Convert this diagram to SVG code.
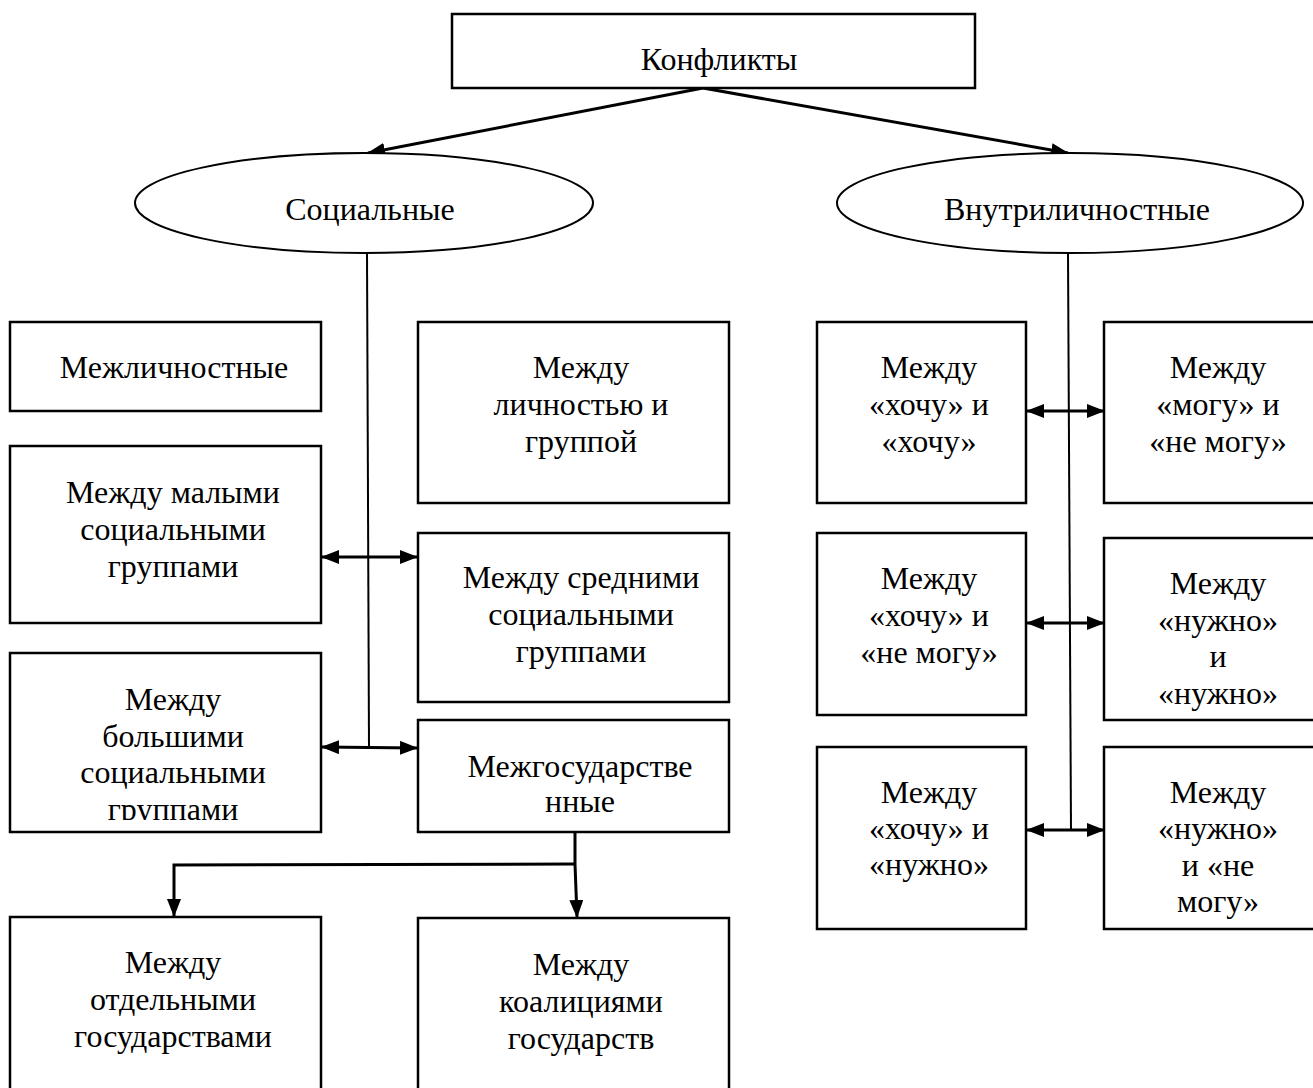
<svg xmlns="http://www.w3.org/2000/svg" width="1313" height="1088" viewBox="0 0 1313 1088">
<style>
.box{fill:#fff;stroke:#000;stroke-width:2.5}
.ell{fill:#fff;stroke:#000;stroke-width:2}
.t{font-family:"Liberation Serif","Times New Roman",serif;font-size:32px;fill:#000;text-anchor:middle}
.ln{fill:none;stroke:#000;stroke-width:2}
.ar{fill:none;stroke:#000;stroke-width:3}
</style>
<defs>
<marker id="ah" markerUnits="userSpaceOnUse" markerWidth="18" markerHeight="14" refX="17" refY="7" orient="auto-start-reverse">
<path d="M0,0 L18,7 L0,14 z" fill="#000"/>
</marker>
<clipPath id="clipBig"><rect x="0" y="640" width="330" height="180"/></clipPath>
</defs>
<rect width="1313" height="1088" fill="#fff"/>

<g id="connectors">
<line class="ar" x1="703" y1="88" x2="368" y2="153" marker-end="url(#ah)"/>
<line class="ar" x1="703" y1="88" x2="1068" y2="153" marker-end="url(#ah)"/>
<line class="ln" x1="367" y1="253" x2="369" y2="748"/>
<line class="ar" x1="322" y1="557" x2="417" y2="557" marker-start="url(#ah)" marker-end="url(#ah)"/>
<line class="ar" x1="322" y1="747" x2="417" y2="748" marker-start="url(#ah)" marker-end="url(#ah)"/>
<path class="ar" d="M575,832 L575,864 L577,917" marker-end="url(#ah)"/>
<path class="ar" d="M575,864 L174,865 L174,916" marker-end="url(#ah)"/>
<line class="ln" x1="1068" y1="253" x2="1071" y2="830"/>
<line class="ar" x1="1027" y1="411" x2="1104" y2="411" marker-start="url(#ah)" marker-end="url(#ah)"/>
<line class="ar" x1="1027" y1="623" x2="1104" y2="623" marker-start="url(#ah)" marker-end="url(#ah)"/>
<line class="ar" x1="1027" y1="830" x2="1104" y2="830" marker-start="url(#ah)" marker-end="url(#ah)"/>
</g>

<g id="n-konflikty">
<rect class="box" x="452" y="14" width="523" height="74"/>
<text class="t" x="719" y="70">Конфликты</text>
</g>

<g id="n-socialnye">
<ellipse class="ell" cx="364" cy="203" rx="229" ry="50"/>
<text class="t" x="370" y="220">Социальные</text>
</g>

<g id="n-vnutrilichnostnye">
<ellipse class="ell" cx="1070" cy="203" rx="233" ry="50"/>
<text class="t" x="1077" y="220">Внутриличностные</text>
</g>

<g id="n-mezhlichnostnye">
<rect class="box" x="10" y="322" width="311" height="89"/>
<text class="t" x="174" y="378">Межличностные</text>
</g>

<g id="n-malye">
<rect class="box" x="10" y="446" width="311" height="177"/>
<text class="t" x="173" y="503">Между малыми</text>
<text class="t" x="173" y="540">социальными</text>
<text class="t" x="173" y="577">группами</text>
</g>

<g id="n-bolshie">
<rect class="box" x="10" y="653" width="311" height="179"/>
<g clip-path="url(#clipBig)">
<text class="t" x="173" y="710">Между</text>
<text class="t" x="173" y="747">большими</text>
<text class="t" x="173" y="783">социальными</text>
<text class="t" x="173" y="820">группами</text>
</g>
</g>

<g id="n-lichnost-gruppa">
<rect class="box" x="418" y="322" width="311" height="181"/>
<text class="t" x="581" y="378">Между</text>
<text class="t" x="581" y="415">личностью и</text>
<text class="t" x="581" y="452">группой</text>
</g>

<g id="n-srednie">
<rect class="box" x="418" y="533" width="311" height="169"/>
<text class="t" x="581" y="588">Между средними</text>
<text class="t" x="581" y="625">социальными</text>
<text class="t" x="581" y="662">группами</text>
</g>

<g id="n-mezhgosudarstvennye">
<rect class="box" x="418" y="720" width="311" height="112"/>
<text class="t" x="580" y="777">Межгосударстве</text>
<text class="t" x="580" y="812">нные</text>
</g>

<g id="n-otdelnye">
<rect class="box" x="10" y="917" width="311" height="180"/>
<text class="t" x="173" y="973">Между</text>
<text class="t" x="173" y="1010">отдельными</text>
<text class="t" x="173" y="1047">государствами</text>
</g>

<g id="n-koalicii">
<rect class="box" x="418" y="918" width="311" height="180"/>
<text class="t" x="581" y="975">Между</text>
<text class="t" x="581" y="1012">коалициями</text>
<text class="t" x="581" y="1049">государств</text>
</g>

<g id="n-hochu-hochu">
<rect class="box" x="817" y="322" width="209" height="181"/>
<text class="t" x="929" y="378">Между</text>
<text class="t" x="929" y="415">«хочу» и</text>
<text class="t" x="929" y="452">«хочу»</text>
</g>

<g id="n-mogu-nemogu">
<rect class="box" x="1104" y="322" width="220" height="181"/>
<text class="t" x="1218" y="378">Между</text>
<text class="t" x="1218" y="415">«могу» и</text>
<text class="t" x="1218" y="452">«не могу»</text>
</g>

<g id="n-hochu-nemogu">
<rect class="box" x="817" y="533" width="209" height="182"/>
<text class="t" x="929" y="589">Между</text>
<text class="t" x="929" y="626">«хочу» и</text>
<text class="t" x="929" y="663">«не могу»</text>
</g>

<g id="n-nuzhno-nuzhno">
<rect class="box" x="1104" y="538" width="220" height="182"/>
<text class="t" x="1218" y="594">Между</text>
<text class="t" x="1218" y="631">«нужно»</text>
<text class="t" x="1218" y="667">и</text>
<text class="t" x="1218" y="704">«нужно»</text>
</g>

<g id="n-hochu-nuzhno">
<rect class="box" x="817" y="747" width="209" height="182"/>
<text class="t" x="929" y="803">Между</text>
<text class="t" x="929" y="839">«хочу» и</text>
<text class="t" x="929" y="875">«нужно»</text>
</g>

<g id="n-nuzhno-nemogu">
<rect class="box" x="1104" y="747" width="220" height="182"/>
<text class="t" x="1218" y="803">Между</text>
<text class="t" x="1218" y="839">«нужно»</text>
<text class="t" x="1218" y="876">и «не</text>
<text class="t" x="1218" y="912">могу»</text>
</g>
</svg>
